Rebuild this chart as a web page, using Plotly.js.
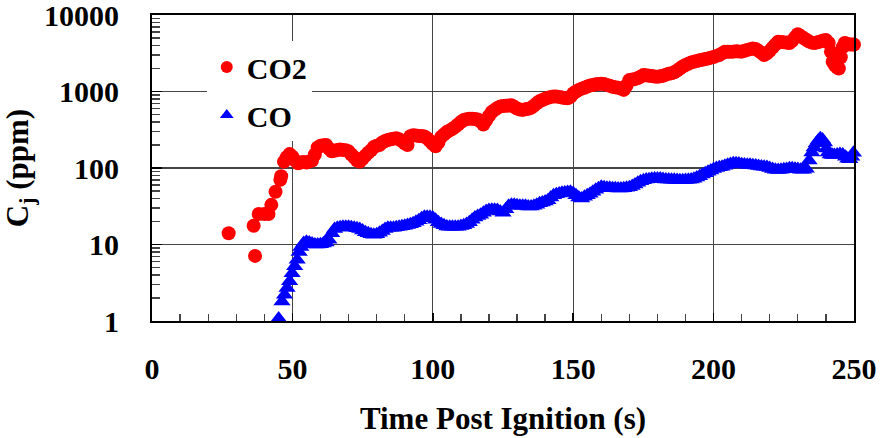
<!DOCTYPE html>
<html>
<head>
<meta charset="utf-8">
<script src="https://cdn.plot.ly/plotly-3.0.1.min.js"></script>
<style>html,body{margin:0;padding:0;background:#fff;}#chart{width:880px;height:438px;}</style>
</head>
<body>
<div id="chart"></div>
<script>
const seriesNames = ["CO2", "CO"];

const co2Time = [27.3, 36.2, 36.7, 38, 40, 41.5, 42.5, 44, 45.7,
  46, 47, 48, 49, 50, 51, 52, 53, 54, 55, 56, 57, 58, 59, 60, 61, 62, 63, 64, 65,
  66, 67, 68, 69, 70, 71, 72, 73, 74, 75, 76, 77, 78, 79, 80, 81, 82, 83, 84, 85,
  86, 87, 88, 89, 90, 91, 92, 93, 94, 95, 96, 97, 98, 99, 100, 101, 102, 103, 104, 105,
  106, 107, 108, 109, 110, 111, 112, 113, 114, 115, 116, 117, 118, 119, 120, 121, 122, 123, 124, 125,
  126, 127, 128, 129, 130, 131, 132, 133, 134, 135, 136, 137, 138, 139, 140, 141, 142, 143, 144, 145,
  146, 147, 148, 149, 150, 151, 152, 153, 154, 155, 156, 157, 158, 159, 160, 161, 162, 163, 164, 165,
  166, 167, 168, 169, 170, 171, 172, 173, 174, 175, 176, 177, 178, 179, 180, 181, 182, 183, 184, 185,
  186, 187, 188, 189, 190, 191, 192, 193, 194, 195, 196, 197, 198, 199, 200, 201, 202, 203, 204, 205,
  206, 207, 208, 209, 210, 211, 212, 213, 214, 215, 216, 217, 218, 219, 220, 221, 222, 223, 224, 225,
  226, 227, 228, 229, 230, 231, 232, 233, 234, 235, 236, 237, 238, 239, 240, 241, 241.8, 242.4, 243.2, 244,
  244.6, 245.3, 246, 246.7, 247.5, 248.5, 249.5, 250];
const co2Values = [14, 17.6, 7.1, 25, 25, 25, 33, 49, 70,
  78, 121, 138, 152, 140, 125, 115, 118, 120, 118, 122, 125, 150, 185, 195, 198, 200, 180, 165, 168,
  172, 175, 172, 170, 165, 150, 138, 125, 121, 132, 145, 158, 170, 188, 195, 200, 215, 225, 232, 238,
  242, 245, 238, 225, 210, 200, 260, 268, 265, 262, 262, 258, 245, 225, 205, 192, 215, 255, 275, 295,
  310, 325, 345, 370, 400, 425, 435, 440, 442, 438, 430, 405, 370, 420, 480, 540, 575, 610, 635, 645,
  650, 655, 660, 630, 600, 580, 575, 585, 595, 610, 650, 700, 745, 775, 805, 830, 850, 860, 858, 850,
  835, 820, 815, 850, 940, 1000, 1050, 1090, 1120, 1160, 1200, 1215, 1240, 1250, 1260, 1250, 1220, 1190, 1150, 1135,
  1120, 1090, 1050, 1200, 1410, 1430, 1450, 1500, 1560, 1640, 1630, 1610, 1590, 1570, 1560, 1580, 1610, 1660, 1700, 1730,
  1780, 1880, 2000, 2120, 2220, 2310, 2400, 2450, 2500, 2560, 2600, 2650, 2700, 2770, 2830, 2920, 3000, 3150, 3320, 3310,
  3300, 3320, 3350, 3330, 3320, 3400, 3500, 3580, 3650, 3600, 3400, 3200, 3000, 3150, 3400, 3750, 4100, 4470, 4450, 4400,
  4350, 4300, 4600, 5100, 5600, 5300, 5000, 4750, 4500, 4350, 4300, 4400, 4500, 4650, 4700, 4300, 3300, 2450, 2200, 2050,
  2000, 2800, 3800, 4300, 4200, 4100, 4100, 4100];

const coTime = [45.1, 46.3, 47.2, 48.1, 49, 49.9, 50.8, 51.7, 52.4, 53,
  54, 55, 56, 57, 58, 59, 60, 61, 62, 63, 64, 65, 66, 67, 68, 69, 70, 71, 72, 73,
  74, 75, 76, 77, 78, 79, 80, 81, 82, 83, 84, 85, 86, 87, 88, 89, 90, 91, 92, 93,
  94, 95, 96, 97, 98, 99, 100, 101, 102, 103, 104, 105, 106, 107, 108, 109, 110, 111, 112, 113,
  114, 115, 116, 117, 118, 119, 120, 121, 122, 123, 124, 125, 126, 127, 128, 129, 130, 131, 132, 133,
  134, 135, 136, 137, 138, 139, 140, 141, 142, 143, 144, 145, 146, 147, 148, 149, 150, 151, 152, 153,
  154, 155, 156, 157, 158, 159, 160, 161, 162, 163, 164, 165, 166, 167, 168, 169, 170, 171, 172, 173,
  174, 175, 176, 177, 178, 179, 180, 181, 182, 183, 184, 185, 186, 187, 188, 189, 190, 191, 192, 193,
  194, 195, 196, 197, 198, 199, 200, 201, 202, 203, 204, 205, 206, 207, 208, 209, 210, 211, 212, 213,
  214, 215, 216, 217, 218, 219, 220, 221, 222, 223, 224, 225, 226, 227, 228, 229, 230, 231, 232, 233,
  234, 235, 235.8, 236.6, 237.3, 238, 238.8, 239.5, 240.2, 240.8, 241.5, 242.3, 243, 244, 245, 246, 247, 247.8, 248.5, 249.2,
  249.8, 250.5];
const coValues = [1.08, 1.8, 2.2, 2.7, 3.3, 4.2, 5.2, 6.3, 8, 9.3,
  10.5, 10.9, 10.6, 10.3, 10, 10, 10.1, 10.3, 10.6, 11.5, 14, 16, 16.5, 16.8, 17, 17, 17, 16.8, 16.5, 16.3,
  16, 15.2, 14.5, 14, 13.6, 13.4, 13.6, 14.2, 15, 16, 16.5, 16.5, 16.6, 16.8, 17, 17.3, 17.6, 18, 18.4, 19,
  19.8, 20.8, 22, 23, 23, 23, 22.5, 21, 19.5, 18.5, 17.8, 17.2, 17, 17, 17, 17.1, 17.4, 17.8, 18.5, 19.5,
  21, 22.5, 23.5, 24.5, 26, 27.5, 28.3, 28.5, 28.5, 28.2, 27, 26, 29, 32, 33, 33, 32.5, 32, 32, 32,
  31.5, 31.5, 32, 33, 34.5, 35.5, 36.5, 38, 41, 44, 45.5, 46.5, 47.5, 48, 48.5, 49, 47, 44, 41, 40,
  42, 44, 46, 49, 52, 54.5, 57, 56, 55, 55, 54.5, 54.5, 54, 54, 54.5, 55, 56, 58, 61, 64,
  67, 69, 70.5, 71.5, 72.5, 73, 73, 73, 72, 71, 70.5, 70, 70, 69.5, 69, 69, 69.5, 70, 71, 72.5,
  75, 78, 82, 85.5, 89, 93, 97, 100, 102, 104, 107, 110, 113, 115, 115.5, 114.5, 112, 111, 110.5, 110,
  109, 108, 106, 105, 104, 103, 100, 97, 95, 94, 95, 96, 97, 99, 99, 98, 97, 95, 95, 98,
  125, 160, 185, 210, 230, 244, 235, 215, 180, 160, 150, 148, 148, 150, 152, 150, 140, 132, 130, 140,
  158, 172];

const xTickVals = [0, 50, 100, 150, 200, 250];
const xMinorTickVals = [10, 20, 30, 40, 60, 70, 80, 90, 110, 120, 130, 140, 160, 170, 180, 190, 210, 220, 230, 240];
const yTickVals = [1, 10, 100, 1000, 10000];
const yTickText = ["1", "10", "100", "1000", "10000"];
const yMinorTickVals = [2, 3, 4, 5, 6, 7, 8, 9, 20, 30, 40, 50, 60, 70, 80, 90,
  200, 300, 400, 500, 600, 700, 800, 900, 2000, 3000, 4000, 5000, 6000, 7000, 8000, 9000];

const FONT = "Liberation Serif, Times New Roman, serif";

const traces = [
  {
    x: co2Time, y: co2Values, name: seriesNames[0], type: "scatter", mode: "markers",
    legendgroup: "a", cliponaxis: false,
    marker: {symbol: "circle", size: 14, color: "#ff0000"}
  },
  {
    x: coTime, y: coValues, name: seriesNames[1], type: "scatter", mode: "markers",
    legendgroup: "b", cliponaxis: false,
    marker: {symbol: "triangle-up", size: 15, color: "#0000ff"}
  },
  {
    x: [], y: [], yaxis: "y2", type: "scatter", mode: "markers",
    showlegend: false, hoverinfo: "skip"
  }
];

const layout = {
  width: 880, height: 438,
  margin: {l: 152, r: 26, t: 15, b: 117},
  paper_bgcolor: "#fff", plot_bgcolor: "#fff",
  font: {family: FONT, size: 30, color: "#000", weight: "bold"},
  showlegend: true,
  legend: {
    x: 0.078, y: 0.915, xanchor: "left", yanchor: "top",
    bgcolor: "#ffffff", borderwidth: 0,
    font: {family: FONT, size: 30, color: "#000", weight: "bold"},
    traceorder: "grouped", tracegroupgap: 6, itemsizing: "constant"
  },
  xaxis: {
    range: [0, 250], tickmode: "array", tickvals: xTickVals, ticktext: xTickVals.map(String),
    showgrid: true, gridcolor: "#444", gridwidth: 1.3,
    showline: true, linecolor: "#000", linewidth: 2, mirror: true,
    ticks: "inside", ticklen: 8, tickcolor: "#000", tickwidth: 1.5,
    minor: {tickmode: "array", tickvals: xMinorTickVals, ticks: "inside", ticklen: 7, tickcolor: "#444", tickwidth: 1.3, showgrid: false},
    zeroline: false, ticklabelstandoff: 20, ticklabeloverflow: "allow",
    tickfont: {family: FONT, size: 30, color: "#000", weight: "bold"},
    title: {text: "Time Post Ignition (s)", standoff: 23, font: {family: FONT, size: 31, color: "#000", weight: "bold"}}
  },
  yaxis: {
    type: "log", range: [0, 4], tickmode: "array", tickvals: yTickVals, ticktext: yTickText,
    showgrid: true, gridcolor: "#444", gridwidth: 1.3,
    showline: true, linecolor: "#000", linewidth: 2, mirror: true,
    ticks: "inside", ticklen: 10, tickcolor: "#000", tickwidth: 1.5,
    zeroline: false, ticklabelstandoff: 25, ticklabeloverflow: "allow",
    tickfont: {family: FONT, size: 30, color: "#000", weight: "bold"},
    title: {text: "C<sub>j</sub> (ppm)", standoff: 17, font: {family: FONT, size: 31, color: "#000", weight: "bold"}}
  },
  yaxis2: {
    type: "log", range: [0, 4], overlaying: "y", anchor: "x", side: "left",
    tickmode: "array", tickvals: yMinorTickVals, showticklabels: false,
    ticks: "inside", ticklen: 8, tickcolor: "#444", tickwidth: 1.3,
    showgrid: false, zeroline: false, showline: false
  }
};

Plotly.newPlot("chart", traces, layout, {staticPlot: true, displayModeBar: false});
</script>
</body>
</html>
